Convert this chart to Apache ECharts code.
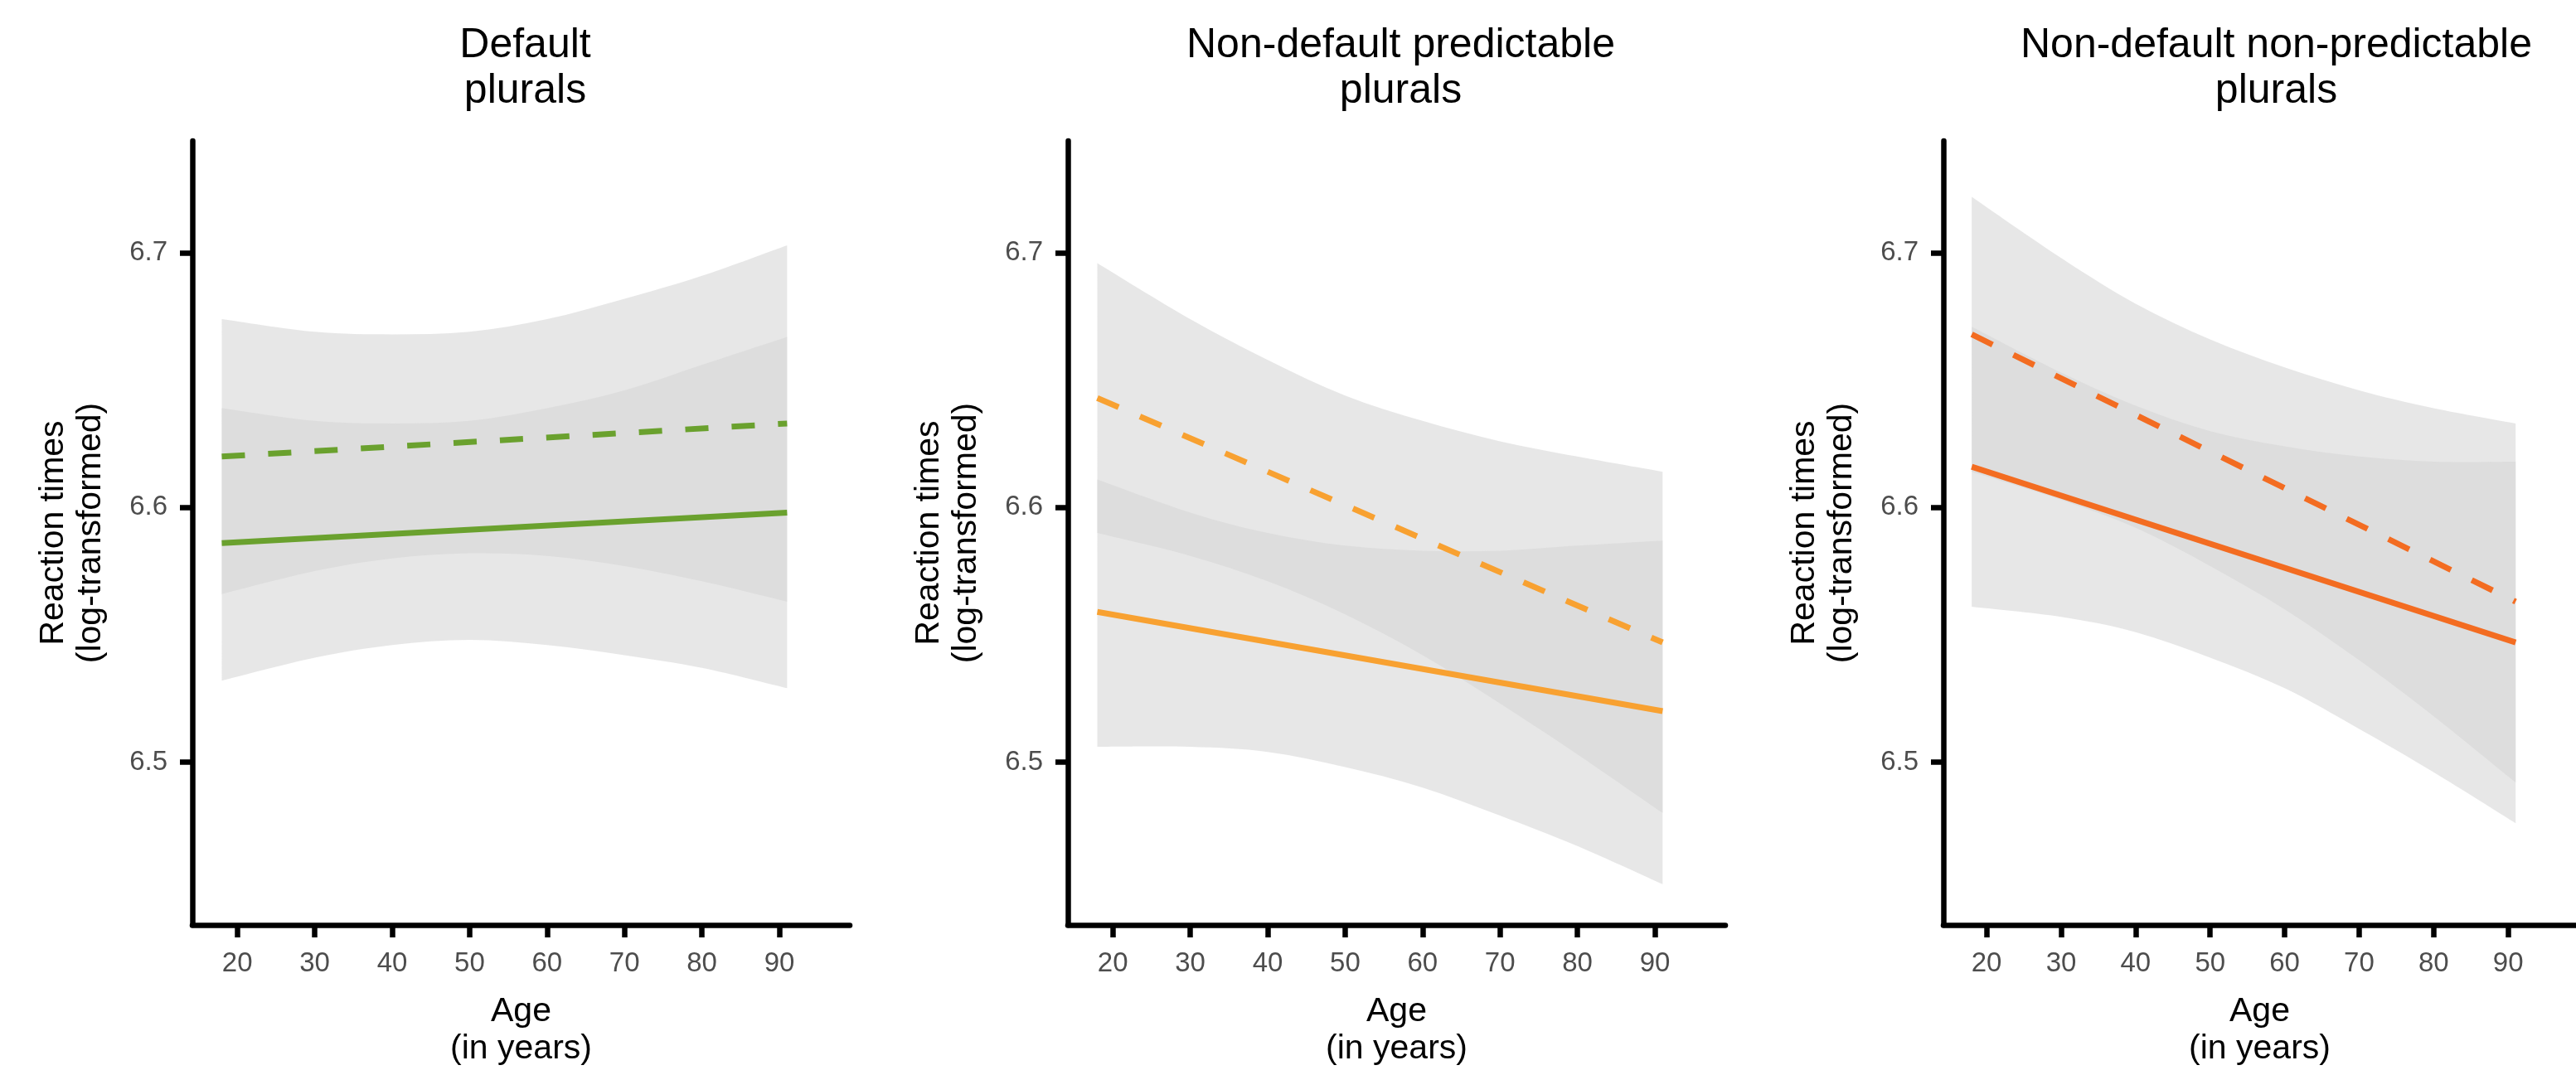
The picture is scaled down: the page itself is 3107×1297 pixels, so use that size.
<!DOCTYPE html>
<html>
<head>
<meta charset="utf-8">
<script src="https://cdn.jsdelivr.net/npm/echarts@6/dist/echarts.min.js"></script>
<style>html,body{margin:0;padding:0;background:#fff}#c{width:3107px;height:1297px}</style>
</head>
<body>
<div id="c"></div>
<script>
// ---- data ----
const panelTitles = ['Default\nplurals', 'Non-default predictable\nplurals', 'Non-default non-predictable\nplurals'];
const lineColors = ['#6aa12e', '#f8a131', '#f36c21'];
const ages = [18, 30, 40, 50, 60, 70, 80, 91];   // ages where ribbon bounds were read
const lineAges = [18, 91];                        // fitted lines are straight: read at both ends
const xTicks = [20, 30, 40, 50, 60, 70, 80, 90];
const yTicks = [6.5, 6.6, 6.7];

// Panel 1: Default plurals
const p1Dashed   = [6.620, 6.633];
const p1DashedHi = [6.674, 6.669, 6.668, 6.669, 6.674, 6.682, 6.691, 6.703];
const p1DashedLo = [6.566, 6.575, 6.580, 6.582, 6.581, 6.577, 6.571, 6.563];
const p1Solid    = [6.586, 6.598];
const p1SolidHi  = [6.639, 6.634, 6.633, 6.634, 6.639, 6.646, 6.656, 6.667];
const p1SolidLo  = [6.532, 6.541, 6.546, 6.548, 6.546, 6.542, 6.537, 6.529];

// Panel 2: Non-default predictable plurals
const p2Dashed   = [6.643, 6.547];
const p2DashedHi = [6.696, 6.674, 6.658, 6.644, 6.634, 6.626, 6.620, 6.614];
const p2DashedLo = [6.590, 6.581, 6.571, 6.558, 6.542, 6.523, 6.503, 6.480];
const p2Solid    = [6.559, 6.520];
const p2SolidHi  = [6.611, 6.598, 6.590, 6.585, 6.583, 6.583, 6.585, 6.587];
const p2SolidLo  = [6.506, 6.506, 6.504, 6.498, 6.490, 6.479, 6.467, 6.452];

// Panel 3: Non-default non-predictable plurals
const p3Dashed   = [6.668, 6.563];
const p3DashedHi = [6.722, 6.698, 6.680, 6.666, 6.655, 6.646, 6.639, 6.633];
const p3DashedLo = [6.614, 6.603, 6.592, 6.577, 6.560, 6.540, 6.518, 6.492];
const p3Solid    = [6.616, 6.547];
const p3SolidHi  = [6.671, 6.653, 6.640, 6.630, 6.624, 6.620, 6.618, 6.618];
const p3SolidLo  = [6.561, 6.557, 6.551, 6.541, 6.529, 6.513, 6.496, 6.476];

const panels = [
  {dashed: p1Dashed, dashedHi: p1DashedHi, dashedLo: p1DashedLo, solid: p1Solid, solidHi: p1SolidHi, solidLo: p1SolidLo},
  {dashed: p2Dashed, dashedHi: p2DashedHi, dashedLo: p2DashedLo, solid: p2Solid, solidHi: p2SolidHi, solidLo: p2SolidLo},
  {dashed: p3Dashed, dashedHi: p3DashedHi, dashedLo: p3DashedLo, solid: p3Solid, solidHi: p3SolidHi, solidLo: p3SolidLo}
];

// ---- layout / style ----
const FONT = 'Liberation Sans, Arial, Helvetica, sans-serif';
const gridLefts = [232, 1288, 2344];
const gridW = 793, gridTop = 170, gridH = 946;
const ribbonFill = 'rgba(214,214,214,0.58)';
const AXW = 6.5;

const pairs = (xs, ys) => xs.map((x, i) => [x, ys[i]]);

// smooth path segments (Catmull-Rom -> cubic Bezier) through pixel points
function curveThrough(pts) {
  let d = '';
  for (let i = 0; i < pts.length - 1; i++) {
    const p0 = pts[i - 1] || pts[i], p1 = pts[i], p2 = pts[i + 1], p3 = pts[i + 2] || pts[i + 1];
    const c1 = [p1[0] + (p2[0] - p0[0]) / 6, p1[1] + (p2[1] - p0[1]) / 6];
    const c2 = [p2[0] - (p3[0] - p1[0]) / 6, p2[1] - (p3[1] - p1[1]) / 6];
    d += ` C${c1[0]},${c1[1]} ${c2[0]},${c2[1]} ${p2[0]},${p2[1]}`;
  }
  return d;
}

function ribbonSeries(k, lo, hi) {
  return {
    type: 'custom', xAxisIndex: k, yAxisIndex: k, silent: true, z: 1,
    data: ages.map((a, i) => [a, lo[i], hi[i]]),
    encode: {x: 0, y: [1, 2]},
    renderItem: (params, api) => {
      if (params.dataIndex !== 0) return null;
      const up = ages.map((a, i) => api.coord([a, hi[i]]));
      const dn = ages.map((a, i) => api.coord([a, lo[i]])).reverse();
      let d = `M${up[0][0]},${up[0][1]}` + curveThrough(up);
      d += ` L${dn[0][0]},${dn[0][1]}` + curveThrough(dn) + ' Z';
      return {type: 'path', shape: {pathData: d}, style: {fill: ribbonFill, stroke: null}};
    }
  };
}

const grids = [], xAxes = [], yAxes = [], series = [], titles = [];
panels.forEach((p, k) => {
  grids.push({left: gridLefts[k], top: gridTop, width: gridW, height: gridH, containLabel: false});
  titles.push({
    text: panelTitles[k], left: gridLefts[k] + gridW / 2, top: 23, textAlign: 'center',
    textStyle: {fontFamily: FONT, fontSize: 50, fontWeight: 'normal', color: '#000', lineHeight: 55}
  });
  xAxes.push({
    type: 'value', gridIndex: k, min: 14.2, max: 99.1,
    name: 'Age\n(in years)', nameLocation: 'middle', nameGap: 82,
    nameTextStyle: {fontFamily: FONT, fontSize: 41, color: '#000', lineHeight: 45},
    axisLine: {show: true, onZero: false, lineStyle: {color: '#000', width: AXW}},
    axisTick: {show: true, customValues: xTicks, length: 15, lineStyle: {color: '#000', width: AXW}},
    axisLabel: {customValues: xTicks, fontFamily: FONT, fontSize: 33, color: '#4d4d4d', margin: 30},
    splitLine: {show: false}
  });
  yAxes.push({
    type: 'value', gridIndex: k, min: 6.436, max: 6.744,
    name: 'Reaction times\n(log-transformed)', nameLocation: 'middle', nameRotate: 90, nameGap: 100,
    nameTextStyle: {fontFamily: FONT, fontSize: 41, color: '#000', lineHeight: 45},
    axisLine: {show: true, onZero: false, lineStyle: {color: '#000', width: AXW}},
    axisTick: {show: true, customValues: yTicks, length: 15, lineStyle: {color: '#000', width: AXW}},
    axisLabel: {customValues: yTicks, formatter: v => v.toFixed(1), fontFamily: FONT, fontSize: 33, color: '#4d4d4d', margin: 30},
    splitLine: {show: false}
  });
  series.push(ribbonSeries(k, p.dashedLo, p.dashedHi));
  series.push(ribbonSeries(k, p.solidLo, p.solidHi));
  series.push({
    type: 'line', xAxisIndex: k, yAxisIndex: k, data: pairs(lineAges, p.dashed), symbol: 'none', silent: true,
    lineStyle: {color: lineColors[k], width: 7, type: [28, 28], cap: 'butt'}, z: 3
  });
  series.push({
    type: 'line', xAxisIndex: k, yAxisIndex: k, data: pairs(lineAges, p.solid), symbol: 'none', silent: true,
    lineStyle: {color: lineColors[k], width: 7, cap: 'butt'}, z: 3
  });
});

const chart = echarts.init(document.getElementById('c'), null, {renderer: 'canvas'});
chart.setOption({
  backgroundColor: '#fff', animation: false,
  title: titles, grid: grids, xAxis: xAxes, yAxis: yAxes, series: series
});
</script>
</body>
</html>
